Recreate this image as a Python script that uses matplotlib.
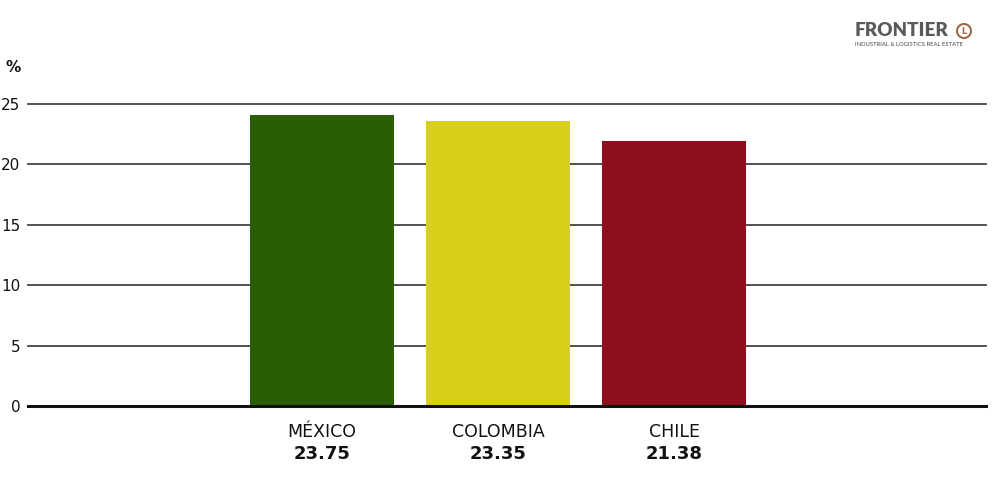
import matplotlib.pyplot as plt
from matplotlib.patches import Ellipse

# Data
countries = ["MÉXICO", "COLOMBIA", "CHILE"]
label_values = ["23.75", "23.35", "21.38"]
bar_heights = [24.1, 23.6, 21.9]
bar_colors = ["#2a5e05", "#d8cf19", "#8e0f1d"]
y_ticks = [0, 5, 10, 15, 20, 25]

plt.rcParams['font.family'] = ['DejaVu Sans']

fig = plt.figure(figsize=(9.97, 4.79), dpi=100)
ax = fig.add_axes([28 / 997, 1 - 406 / 479, (986 - 28) / 997, (406 - 104) / 479])

positions = list(range(len(countries)))
ax.bar(positions, bar_heights, width=0.818, color=bar_colors, zorder=2)

ax.set_xlim(-1.67, 3.77)
ax.set_ylim(0, 25)
ax.set_yticks(y_ticks)
ax.set_yticklabels([str(t) for t in y_ticks], fontsize=11, color="#111111")
ax.tick_params(axis='y', length=0, pad=5.5)
ax.set_xticks([])

for spine in ax.spines.values():
    spine.set_visible(False)

# horizontal grid lines
for t in y_ticks[1:]:
    ax.axhline(t, color="#444444", linewidth=1.3, zorder=1, clip_on=False)
ax.axhline(0, color="#111111", linewidth=2.2, zorder=3, clip_on=False)

# category labels and values under the bars
for pos, name, val in zip(positions, countries, label_values):
    ax.annotate(name, (pos, 0), xytext=(0, -12), textcoords='offset points',
                ha='center', va='top', fontsize=12.5, color="#111111")
    ax.annotate(val, (pos, 0), xytext=(0, -28), textcoords='offset points',
                ha='center', va='top', fontsize=13, fontweight='bold', color="#111111")

fig.text(6 / 997, 1 - 67 / 479, "%", fontsize=11, fontweight='bold', color="#111111", va='center')

# logo
fig.text(855 / 997, 1 - 31 / 479, "FRONTIER", fontsize=13.5, fontweight='heavy',
         color="#5a5a5a", va='center', ha='left', family='Lato')
fig.text(855 / 997, 1 - 44 / 479, "INDUSTRIAL & LOGISTICS REAL ESTATE", fontsize=4.2,
         color="#444444", va='center', ha='left', family='Lato')
logo = Ellipse((964 / 997, 1 - 31 / 479), 14 / 997, 14 / 479, transform=fig.transFigure,
               fill=False, edgecolor="#a0694a", linewidth=1.5)
fig.patches.append(logo)
fig.text(964 / 997, 1 - 31 / 479, "L", fontsize=6, color="#a0694a", ha='center', va='center',
         fontweight='bold')

plt.savefig("out.png", dpi=100)
